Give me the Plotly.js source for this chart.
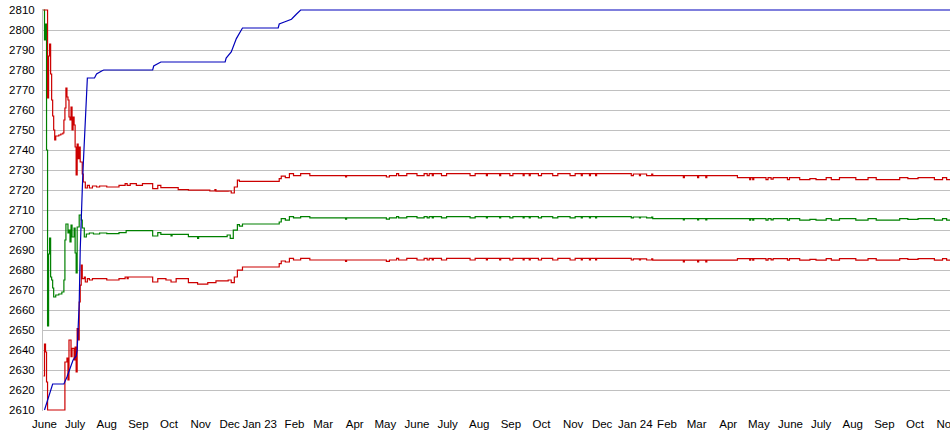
<!DOCTYPE html>
<html>
<head>
<meta charset="utf-8">
<script src="https://cdn.plot.ly/plotly-3.0.1.min.js"></script>
<style>html,body{margin:0;padding:0;background:#fff;overflow:hidden}#chart{width:950px;height:435px}</style>
</head>
<body>
<div id="chart"></div>
<script>
// Month ticks
const tickDates = ['2022-06-01','2022-07-01','2022-08-01','2022-09-01','2022-10-01','2022-11-01','2022-12-01','2023-01-01','2023-02-01','2023-03-01','2023-04-01','2023-05-01','2023-06-01','2023-07-01','2023-08-01','2023-09-01','2023-10-01','2023-11-01','2023-12-01','2024-01-01','2024-02-01','2024-03-01','2024-04-01','2024-05-01','2024-06-01','2024-07-01','2024-08-01','2024-09-01','2024-10-01','2024-11-01'];
const tickLabels = ['June','July','Aug','Sep','Oct','Nov','Dec\u00a0','Jan 23\u00a0\u00a0','Feb','Mar','Apr','May','June','July','Aug','Sep','Oct','Nov','Dec\u00a0','Jan 24','Feb','Mar','Apr','May','June','July','Aug','Sep','Oct','Nov'];

// Blue series (rating)
const blueDates = ['2022-06-01','2022-06-09','2022-06-20','2022-06-23','2022-06-29','2022-07-02','2022-07-03','2022-07-05','2022-07-06','2022-07-07','2022-07-08','2022-07-09','2022-07-11','2022-07-12','2022-07-13','2022-07-20','2022-07-22','2022-07-27','2022-07-29','2022-09-15','2022-09-16','2022-09-23','2022-11-25','2022-11-26','2022-12-01','2022-12-06','2022-12-09','2022-12-12','2023-01-16','2023-01-17','2023-01-22','2023-01-29','2023-02-03','2023-02-07','2024-11-06'];
const blueVals  = [2610,2623,2623,2626.5,2635,2637,2640,2663,2690,2712,2720,2733,2753,2761,2776,2776,2778,2779.5,2780,2780,2782,2784,2784,2786,2789,2795.7,2798.7,2801,2801,2803,2804,2805.4,2808,2810,2810];

// Early part of the band series (until Jan 2023)
const upperEarlyDates = ['2022-05-31','2022-06-04','2022-06-05','2022-06-06','2022-06-07','2022-06-08','2022-06-09','2022-06-10','2022-06-11','2022-06-12','2022-06-15','2022-06-17','2022-06-19','2022-06-20','2022-06-21','2022-06-22','2022-06-23','2022-06-24','2022-06-25','2022-06-26','2022-06-27','2022-06-28','2022-06-29','2022-06-30','2022-07-01','2022-07-02','2022-07-03','2022-07-04','2022-07-05','2022-07-06','2022-07-08','2022-07-09','2022-07-11','2022-07-13','2022-07-15','2022-07-18','2022-07-22','2022-07-25','2022-08-01','2022-08-13','2022-08-19','2022-08-21','2022-08-24','2022-08-30','2022-09-05','2022-09-15','2022-09-20','2022-09-23','2022-10-10','2022-10-20','2022-11-10','2022-11-15','2022-11-16','2022-11-28','2022-12-01','2022-12-04','2022-12-07','2022-12-09','2023-01-17','2023-01-19','2023-01-23'];
const upperEarlyVals = [2810,2766,2787,2793,2778,2765,2757,2750,2745,2747,2747.5,2748,2748.5,2755,2761,2771,2766.5,2765,2756.5,2755,2761.5,2750,2756.5,2752.5,2741.5,2727.5,2743,2735.7,2741.5,2734,2728,2724,2721,2722.3,2721,2722,2721.5,2722,2721.5,2722.3,2723.2,2722.3,2723.2,2722.3,2723.2,2720.7,2722.3,2721.2,2720.2,2719.9,2719.5,2720.2,2719.4,2719.5,2718.5,2721.5,2724.9,2724.3,2725.7,2726.9,2726.2];

const midEarlyDates = ['2022-05-31','2022-06-01','2022-06-02','2022-06-03','2022-06-04','2022-06-05','2022-06-06','2022-06-07','2022-06-08','2022-06-09','2022-06-10','2022-06-12','2022-06-15','2022-06-18','2022-06-20','2022-06-21','2022-06-22','2022-06-24','2022-06-25','2022-06-26','2022-06-27','2022-06-28','2022-06-30','2022-07-01','2022-07-02','2022-07-03','2022-07-05','2022-07-07','2022-07-08','2022-07-10','2022-07-12','2022-07-15','2022-07-19','2022-07-25','2022-08-01','2022-08-13','2022-08-20','2022-09-15','2022-09-20','2022-09-23','2022-10-03','2022-10-04','2022-10-20','2022-10-29','2022-10-30','2022-11-27','2022-11-30','2022-12-03','2022-12-07','2022-12-09','2022-12-12','2023-01-17','2023-01-19','2023-01-23'];
const midEarlyVals = [2810,2795,2803,2740,2652,2688,2696,2676.5,2675,2671,2666.5,2667.5,2668,2669,2675,2695,2703,2698.5,2700,2694,2702.5,2696.5,2701,2688.5,2678.5,2701.5,2707.5,2705,2701,2696.5,2698,2698.5,2698,2698.5,2698.2,2698.7,2699.7,2697,2698.7,2697.8,2697,2697.8,2696.7,2695.8,2696.7,2697.5,2695.8,2699.9,2702.7,2701.9,2703,2704,2705.7,2704.9];

const lowerEarlyDates = ['2022-05-31','2022-06-01','2022-06-02','2022-06-03','2022-06-04','2022-06-21','2022-06-23','2022-06-24','2022-06-25','2022-06-27','2022-06-28','2022-06-30','2022-07-01','2022-07-02','2022-07-03','2022-07-04','2022-07-05','2022-07-06','2022-07-07','2022-07-08','2022-07-10','2022-07-11','2022-07-13','2022-07-15','2022-07-18','2022-08-01','2022-08-13','2022-08-19','2022-08-21','2022-08-22','2022-09-15','2022-09-20','2022-09-28','2022-10-03','2022-10-08','2022-10-20','2022-10-29','2022-11-08','2022-11-16','2022-11-28','2022-12-01','2022-12-04','2022-12-07','2022-12-12','2023-01-17','2023-01-19','2023-01-23'];
const lowerEarlyVals = [2627,2643,2639,2624,2610,2634,2636,2625,2645,2636.7,2640.8,2635,2641.5,2629,2650.7,2645,2664,2672.4,2682.4,2675.7,2676.5,2674,2675.7,2675,2675.7,2675,2675.7,2676.5,2675.7,2676.5,2674,2675.7,2675,2674,2675.7,2673.7,2672.9,2673.7,2674.6,2675,2673.7,2676.5,2679.9,2681.5,2683.2,2684.5,2684];

// Late part of the band series (shared change dates)
const lateDates = ['2023-01-27','2023-01-31','2023-02-07','2023-02-16','2023-03-23','2023-03-24','2023-05-02','2023-05-05','2023-05-12','2023-05-14','2023-05-22','2023-06-01','2023-06-08','2023-06-11','2023-06-13','2023-06-16','2023-06-17','2023-06-25','2023-06-30','2023-07-23','2023-07-28','2023-08-08','2023-08-09','2023-08-21','2023-08-22','2023-08-31','2023-09-03','2023-09-13','2023-09-14','2023-09-19','2023-09-20','2023-09-28','2023-10-01','2023-10-12','2023-10-17','2023-10-29','2023-11-03','2023-11-09','2023-11-10','2023-11-17','2023-11-18','2023-11-23','2023-11-24','2023-12-28','2023-12-30','2024-01-05','2024-01-06','2024-01-12','2024-01-17','2024-01-18','2024-02-17','2024-02-18','2024-03-02','2024-03-03','2024-03-10','2024-03-11','2024-04-10','2024-04-22','2024-04-23','2024-04-25','2024-04-26','2024-05-08','2024-05-10','2024-05-13','2024-05-15','2024-05-29','2024-05-31','2024-06-10','2024-06-20','2024-06-26','2024-07-06','2024-07-11','2024-07-19','2024-08-04','2024-08-16','2024-08-24','2024-09-16','2024-09-24','2024-10-04','2024-10-20','2024-10-28','2024-11-01','2024-11-06'];
const upperLate = [2728.2,2727.2,2728.2,2727.2,2726.5,2727.2,2726.5,2727.2,2728.2,2727.2,2728.2,2727.2,2728.2,2727.2,2728.2,2727.2,2728.2,2727.2,2728.2,2727.2,2728.2,2727.2,2728.2,2727.2,2728.2,2727.2,2728.2,2727.2,2728.2,2727.2,2728.2,2727.2,2728.2,2727.2,2728.2,2727.2,2728.2,2727.2,2728.2,2727.2,2728.2,2727.2,2728.2,2727.2,2728.0,2727.2,2728.0,2727.2,2728.0,2727.2,2726.2,2727.2,2726.2,2727.2,2726.2,2727.2,2726.2,2725.2,2726.2,2725.2,2726.2,2725.2,2726.2,2725.4,2726.2,2725.2,2726.2,2725.2,2725.7,2725.2,2726.2,2725.2,2726.2,2725.2,2726.2,2725.2,2726.2,2725.7,2726.2,2725.2,2726.2,2725.2,2725.2];
const midLate = [2706.7,2706.1,2706.7,2706.1,2705.4,2706.1,2705.4,2706.1,2706.7,2706.1,2706.7,2706.1,2706.7,2706.1,2706.7,2706.1,2706.7,2706.1,2706.7,2706.1,2706.7,2706.1,2706.7,2706.1,2706.7,2706.1,2706.7,2706.1,2706.7,2706.1,2706.7,2706.1,2706.7,2706.1,2706.7,2706.1,2706.7,2706.1,2706.7,2706.1,2706.7,2706.1,2706.7,2706.1,2706.5,2706.1,2706.5,2706.1,2706.5,2705.7,2705.0,2705.7,2705.0,2705.7,2705.0,2705.7,2705.7,2704.9,2705.7,2704.9,2705.7,2704.9,2705.7,2705.1,2705.7,2704.9,2705.7,2704.9,2705.3,2704.9,2705.7,2704.9,2705.7,2704.9,2705.7,2704.9,2705.7,2705.3,2705.7,2704.9,2705.7,2704.9,2704.9];
const lowerLate = [2685.8,2685.0,2685.8,2685.0,2684.3,2685.0,2684.3,2685.0,2685.8,2685.0,2685.8,2685.0,2685.8,2685.0,2685.8,2685.0,2685.8,2685.0,2685.8,2685.0,2685.8,2685.0,2685.8,2685.0,2685.8,2685.0,2685.8,2685.0,2685.8,2685.0,2685.8,2685.0,2685.8,2685.0,2685.8,2685.0,2685.8,2685.0,2685.8,2685.0,2685.8,2685.0,2685.8,2685.0,2685.6,2685.0,2685.6,2685.0,2685.6,2684.9,2684.1,2684.9,2684.1,2684.9,2684.1,2684.9,2685.7,2684.9,2685.7,2684.9,2685.7,2684.9,2685.7,2685.1,2685.7,2684.9,2685.7,2684.9,2685.3,2684.9,2685.7,2684.9,2685.7,2684.9,2685.7,2684.9,2685.7,2685.3,2685.7,2684.9,2685.7,2684.9,2684.9];

const RED = '#cc0000', GREEN = '#008000', BLUE = '#0000bb';
const traces = [
  {x: midEarlyDates.concat(lateDates), y: midEarlyVals.concat(midLate), mode:'lines', line:{color:GREEN, width:1.2, shape:'hv'}},
  {x: upperEarlyDates.concat(lateDates), y: upperEarlyVals.concat(upperLate), mode:'lines', line:{color:RED, width:1.2, shape:'hv'}},
  {x: lowerEarlyDates.concat(lateDates), y: lowerEarlyVals.concat(lowerLate), mode:'lines', line:{color:RED, width:1.2, shape:'hv'}},
  {x: blueDates, y: blueVals, mode:'lines', line:{color:BLUE, width:1.2}}
];

const font = {family:'"Liberation Sans", Arial, sans-serif', size:11.5, color:'#000'};
const layout = {
  width:950, height:435,
  margin:{l:43, r:0, t:9, b:24, pad:0},
  paper_bgcolor:'#fff', plot_bgcolor:'#fff',
  showlegend:false,
  font: font,
  xaxis:{
    type:'date',
    range:['2022-05-30 12:43','2024-11-04 07:12'],
    tickmode:'array', tickvals:tickDates, ticktext:tickLabels,
    showgrid:false, zeroline:false, showline:false,
    ticks:'', ticklabelstandoff:4, tickfont:font, tickangle:0,
    ticklabeloverflow:'allow'
  },
  yaxis:{
    range:[2609.5, 2810.5],
    tickmode:'linear', tick0:2610, dtick:10,
    showgrid:true, gridcolor:'#c0c0c0', gridwidth:1,
    zeroline:false, showline:true, linecolor:'#c0c0c0', linewidth:1,
    ticks:'', ticklabelstandoff:5, tickfont:font
  }
};
Plotly.newPlot('chart', traces, layout, {staticPlot:true, displayModeBar:false});
</script>
</body>
</html>
